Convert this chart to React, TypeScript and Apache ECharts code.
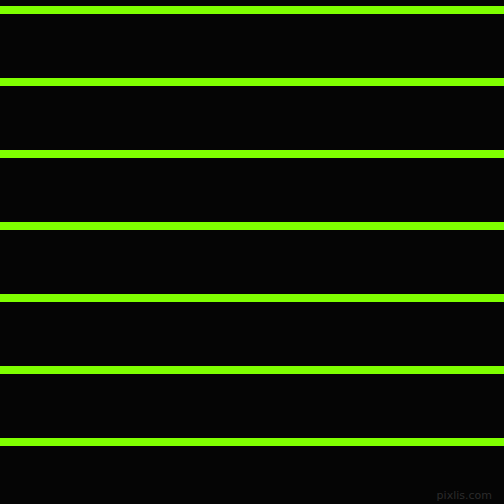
import { useEffect, useRef } from 'react';
import * as echarts from 'echarts';

// positions (in px from the top) of the horizontal stripes
const stripeRows = [10, 82, 154, 226, 298, 370, 442];
const stripeColor = '#7fff00';
const backgroundColor = '#050505';
const watermark = 'pixlis.com';

export default function App() {
  const chartRef = useRef<HTMLDivElement>(null);

  useEffect(() => {
    if (!chartRef.current) return;
    const chart = echarts.init(chartRef.current, undefined, { renderer: 'svg' });

    const option: echarts.EChartsOption = {
      animation: false,
      backgroundColor,
      grid: { left: 0, right: 0, top: 0, bottom: 0 },
      xAxis: { type: 'value', min: 0, max: 504, show: false },
      yAxis: { type: 'value', min: 0, max: 504, inverse: true, show: false },
      series: [
        {
          type: 'line',
          data: [],
          markLine: {
            silent: true,
            symbol: ['none', 'none'],
            label: { show: false },
            lineStyle: { color: stripeColor, width: 8, type: 'solid' },
            data: stripeRows.map((y) => ({ yAxis: y })),
          },
        },
      ],
      graphic: [
        {
          type: 'text',
          right: 12,
          bottom: 3,
          style: {
            text: watermark,
            fill: '#2b2b2b',
            font: '11px "DejaVu Sans", sans-serif',
          },
        },
      ],
    };

    chart.setOption(option);
    return () => chart.dispose();
  }, []);

  return (
    <div
      ref={chartRef}
      style={{ position: 'fixed', left: 0, top: 0, width: '504px', height: '504px' }}
    />
  );
}
